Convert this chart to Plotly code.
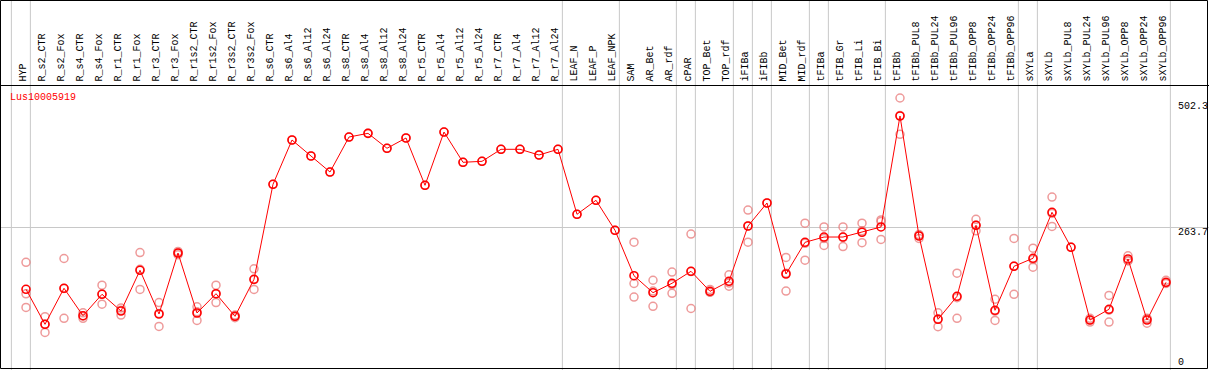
import plotly.graph_objects as go

gene_id = "Lus10005919"

categories = [
    "HYP", "R_s2_CTR", "R_s2_Fox", "R_s4_CTR", "R_s4_Fox", "R_r1_CTR", "R_r1_Fox",
    "R_r3_CTR", "R_r3_Fox", "R_r1s2_CTR", "R_r1s2_Fox", "R_r3s2_CTR", "R_r3s2_Fox",
    "R_s6_CTR", "R_s6_Al4", "R_s6_Al12", "R_s6_Al24", "R_s8_CTR", "R_s8_Al4",
    "R_s8_Al12", "R_s8_Al24", "R_r5_CTR", "R_r5_Al4", "R_r5_Al12", "R_r5_Al24",
    "R_r7_CTR", "R_r7_Al4", "R_r7_Al12", "R_r7_Al24", "LEAF_N", "LEAF_P", "LEAF_NPK",
    "SAM", "AR_Bet", "AR_rdf", "cPAR", "TOP_Bet", "TOP_rdf", "iFIBa", "iFIBb",
    "MID_Bet", "MID_rdf", "tFIBa", "tFIB_Gr", "tFIB_Li", "tFIB_Bi", "tFIBb",
    "tFIBb_PUL8", "tFIBb_PUL24", "tFIBb_PUL96", "tFIBb_OPP8", "tFIBb_OPP24",
    "tFIBb_OPP96", "sXYLa", "sXYLb", "sXYLb_PUL8", "sXYLb_PUL24", "sXYLb_PUL96",
    "sXYLb_OPP8", "sXYLb_OPP24", "sXYLb_OPP96",
]

mean_values = [
    150.3, 85.9, 152.2, 101.7, 141.1, 110.4, 185.3, 104.9, 217.1, 106.7, 142.2, 100.6, 168.7,
    343.5, 425.0, 395.6, 366.1, 430.5, 437.3, 409.8, 428.7, 341.7, 439.7, 384.0, 385.8,
    407.9, 407.9, 397.4, 407.9, 288.3, 314.1, 258.9,
    175.3, 144.1, 161.4, 183.4, 146.6, 165.0, 266.8, 309.1, 178.5, 236.8,
    246.5, 246.5, 255.2, 265.0, 469.2,
    248.4, 95.1, 137.4, 268.1, 111.7, 192.6,
    207.4, 292.0, 227.6, 93.8, 113.5, 206.1, 93.8, 163.2,
]

replicate_values = [
    [200, 142, 117], [100, 71, 86], [207, 97, 152], [107, 97, 101], [158, 123, 142],
    [116, 103, 112], [218, 150, 187], [126, 82, 106], [214, 217, 220], [118, 93, 109],
    [158, 126, 142], [98, 101, 103], [188, 150, 168],
    [343.5], [425.0], [395.6], [366.1], [430.5], [437.3], [409.8], [428.7], [341.7],
    [439.7], [384.0], [385.8], [407.9], [407.9], [397.4], [407.9], [288.3], [314.1], [258.9],
    [237, 161, 136], [167, 119, 147], [182, 143, 159], [252, 115, 183], [150, 145, 145],
    [177, 156, 162], [296, 237, 267], [309.1], [209, 147, 180], [272, 204, 235],
    [265, 231, 244], [265, 229, 246], [272, 236, 258], [278, 242, 275], [502.3, 435.5, 470],
    [244, 250, 251], [107, 81.5, 96], [180, 97, 135], [279, 258, 268], [132, 93, 110],
    [244, 141, 193], [226, 191, 205], [320, 266, 290], [228], [90, 97, 94], [139, 90, 112],
    [212, 203, 203], [88, 96, 97], [167, 161, 162],
]

# separators drawn after these categories (group ends); "" = before first
group_ends = ["", "HYP", "R_r7_Al24", "LEAF_NPK", "AR_rdf", "cPAR", "TOP_rdf", "iFIBa",
              "iFIBb", "MID_rdf", "tFIBa", "tFIB_Bi", "tFIBb_OPP96", "sXYLa", "sXYLb_OPP96"]

y_ticks = [0, 263.7, 502.3]
y_tick_labels = ["0", "263.7", "502.3"]

W, H = 1209, 370
xr = [-26 / 19, (W - 26) / 19]
yr = [1 / 0.5435, 371 / 0.5435]

x_idx = list(range(len(categories)))
rep_x, rep_y = [], []
for i, reps in enumerate(replicate_values):
    for v in reps:
        rep_x.append(i)
        rep_y.append(v)

FONT = "Liberation Mono"
fig = go.Figure()

fig.add_trace(go.Scatter(
    x=rep_x, y=rep_y, mode="markers",
    marker=dict(symbol="circle-open", size=8, color="rgba(232,120,120,0.75)",
                line=dict(width=1.5)),
    hoverinfo="skip", showlegend=False,
))
fig.add_trace(go.Scatter(
    x=x_idx, y=mean_values, mode="lines+markers",
    line=dict(color="#ff0000", width=1),
    marker=dict(symbol="circle-open", size=8, color="#ff0000", line=dict(width=1.6)),
    text=categories, showlegend=False,
))

shapes = []
for g in group_ends:
    pos = (categories.index(g) if g else -1) + 0.23
    shapes.append(dict(type="line", xref="x", yref="paper", x0=pos, x1=pos, y0=0, y1=1,
                       line=dict(color="#c8c8c8", width=1), layer="below"))
# header separator and border
shapes.append(dict(type="line", xref="paper", yref="paper", x0=0, x1=1,
                   y0=1 - 85.5 / H, y1=1 - 85.5 / H, line=dict(color="black", width=1)))
shapes.append(dict(type="rect", xref="paper", yref="paper", x0=0.5 / W, x1=1 - 1.5 / W,
                   y0=1.5 / H, y1=1 - 0.5 / H, line=dict(color="black", width=1)))

annotations = []
for i, c in enumerate(categories):
    annotations.append(dict(x=i - 0.08, xref="x", y=1 - 82 / H, yref="paper", text=c,
                            textangle=-90, showarrow=False, xanchor="center",
                            yanchor="bottom", font=dict(family=FONT, size=10, color="black"),
                            borderpad=0))
annotations.append(dict(x=9 / W, xref="paper", y=1 - 97 / H, yref="paper", text=gene_id,
                        showarrow=False, xanchor="left", yanchor="middle",
                        font=dict(family=FONT, size=10, color="#ff0000"), borderpad=0))
label_px = {"502.3": 107, "263.7": 232, "0": 362}
for v, t in zip(y_ticks, y_tick_labels):
    annotations.append(dict(x=1177 / W, xref="paper", y=1 - label_px[t] / H, yref="paper",
                            text=t, showarrow=False, xanchor="left", yanchor="middle",
                            font=dict(family=FONT, size=10, color="black"), borderpad=0))

fig.update_layout(
    width=W, height=H, margin=dict(l=0, r=0, t=0, b=0, pad=0),
    paper_bgcolor="white", plot_bgcolor="white",
    xaxis=dict(range=xr, showgrid=False, zeroline=False, showticklabels=False,
               ticks="", showline=False),
    yaxis=dict(range=yr, tickvals=[263.7], showgrid=True, gridcolor="#c8c8c8",
               gridwidth=1, zeroline=False, showticklabels=False, ticks="", showline=False),
    shapes=shapes, annotations=annotations, hovermode="closest",
)

fig.write_html(
    "out.html",
    config={"displayModeBar": False},
    post_script="document.body.style.margin='0';document.body.style.overflow='hidden';",
)
